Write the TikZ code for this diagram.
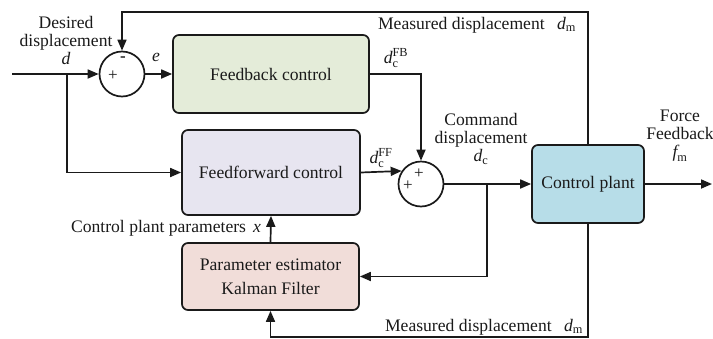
\documentclass[tikz,border=0pt]{standalone}
\usepackage{amsmath}
\usepackage{fontspec}
\setmainfont{Liberation Serif}
\usetikzlibrary{arrows.meta}
\definecolor{fbcol}{HTML}{E4ECD9}
\definecolor{ffcol}{HTML}{E7E5F0}
\definecolor{kfcol}{HTML}{F1DDD9}
\definecolor{plcol}{HTML}{B7DDE8}
\definecolor{ink}{HTML}{1A1A1A}
\begin{document}
\begin{tikzpicture}[x=1pt,y=-1pt,
  line width=1.7pt, draw=ink,
  every node/.style={font=\fontsize{17.6}{18}\selectfont, text=ink},
  blockbox/.style={draw=ink, rounded corners=6pt, line width=1.7pt, inner sep=0pt},
  sumnode/.style={draw=ink, circle, minimum size=45pt, inner sep=0pt, line width=1.7pt},
  arr/.style={-{Triangle[length=11pt,width=9pt]}},
  lbl/.style={inner sep=0pt, align=center},
  sgn/.style={inner sep=0pt, font=\fontsize{17}{17}\selectfont}]
\useasboundingbox (0,0) rectangle (713,338);

% blocks
\node[blockbox, fill=fbcol, minimum width=196pt, minimum height=78pt] (fb) at (271,74) {Feedback control};
\node[blockbox, fill=ffcol, minimum width=178pt, minimum height=85pt] (ff) at (271,172.5) {Feedforward control};
\node[blockbox, fill=kfcol, minimum width=177pt, minimum height=67pt, align=center] (kf) at (270.5,276.5) {Parameter estimator\\[6pt]Kalman Filter};
\node[blockbox, fill=plcol, minimum width=112pt, minimum height=78pt] (pl) at (588,184) {Control plant};

% summing junctions
\node[sumnode] (s1) at (122,74) {};
\node[sumnode] (s2) at (421,184) {};
\node[sgn] (s1m) at (123,59) {\textbf{-}};
\node[sgn] (s1p) at (113,76) {+};
\node[sgn] (s2a) at (419,174) {+};
\node[sgn] (s2b) at (408,186) {+};

% coordinates
\coordinate (in) at (12,74);
\coordinate (br1) at (67,74);
\coordinate (br2) at (487,184);
\coordinate (out) at (712,184);
\coordinate (top) at (588,12);
\coordinate (bot) at (588,337);

% connectors
\draw[arr] (in) -- (s1.west);
\draw[arr] (s1.east) -- (fb.west);
\draw[arr] (br1) |- (ff.west);
\draw[arr] (fb.east) -| (s2.north);
\draw[arr] (ff.east) -- (s2.146);
\draw[arr] (s2.east) -- (pl.west);
\draw[arr] (br2) |- (kf.east);
\draw[arr] (pl.east) -- (out);
\draw[arr] (pl.north) -- (top) -| (s1.north);
\draw[arr] (pl.south) -- (bot) -| (kf.south);
\draw[arr] (kf.north) -- (ff.south);

% labels
\node[lbl] (ldes) at (66,40) {Desired\\displacement\\\textit{d}};
\node[lbl] (le) at (156,57) {\textit{e}};
\node[lbl] (lfb) at (396,58) {$\textit{d}^{\text{FB}}_{\text{c}}$};
\node[lbl] (lff) at (381,158) {$\textit{d}^{\text{FF}}_{\text{c}}$};
\node[lbl] (lcmd) at (481,139) {Command\\displacement\\$\textit{d}_{\text{c}}$};
\node[lbl] (lforce) at (680,136) {Force\\Feedback\\$\textit{f}_{\text{m}}$};
\node[lbl] (lmt) at (477,25) {Measured displacement\hspace{0.7em}$\textit{d}_{\text{m}}$};
\node[lbl] (lmb) at (484,327) {Measured displacement\hspace{0.7em}$\textit{d}_{\text{m}}$};
\node[lbl] (lcp) at (166,228) {Control plant parameters\hspace{0.4em}\textit{x}};
\end{tikzpicture}
\end{document}
